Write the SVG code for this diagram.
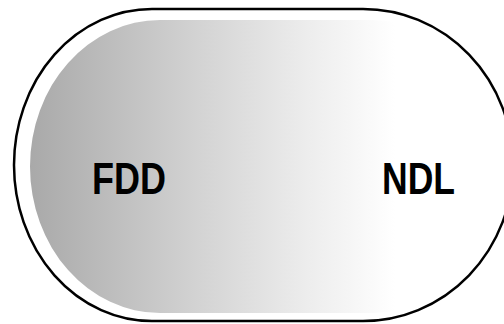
<svg xmlns="http://www.w3.org/2000/svg" width="504" height="324" viewBox="0 0 504 324">
  <defs>
    <linearGradient id="g" gradientUnits="userSpaceOnUse" x1="30" y1="0" x2="395" y2="0">
      <stop offset="0" stop-color="#a9a9a9"/>
      <stop offset="0.45" stop-color="#d2d2d2"/>
      <stop offset="0.75" stop-color="#ececec"/>
      <stop offset="1" stop-color="#ffffff"/>
    </linearGradient>
  </defs>
  <style>
    .lbl { font-family: "Liberation Sans", Arial, sans-serif; font-weight: bold; font-size: 45px; fill: #000; }
  </style>
  <rect width="504" height="324" fill="#ffffff"/>
  <g id="shape">
    <path d="M152,9 L363,9 A150,156 0 0 1 363,321 L152,321 A138,156 0 0 1 152,9 Z" fill="#ffffff" stroke="#000" stroke-width="2.5"/>
    <path d="M160,20 L372,20 A135,146.5 0 0 1 372,313 L160,313 A130,146.5 0 0 1 160,20 Z" fill="url(#g)"/>
  </g>
  <g id="fdd">
    <text class="lbl" x="92" y="194" textLength="74" lengthAdjust="spacingAndGlyphs">FDD</text>
  </g>
  <g id="ndl">
    <text class="lbl" x="382" y="194" textLength="73" lengthAdjust="spacingAndGlyphs">NDL</text>
  </g>
</svg>
